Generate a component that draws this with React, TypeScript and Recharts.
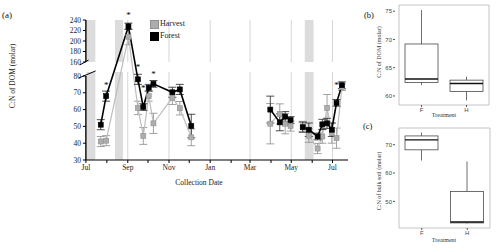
import React from 'react';
import {
  LineChart, Line, XAxis, YAxis, ErrorBar, ReferenceLine, ReferenceArea,
  ReferenceDot, Legend, BarChart, Bar,
} from 'recharts';

// ---------- Panel (a) data ----------
// days since 1 Jul 2014
const sampleDays = [22, 30, 63, 77, 85, 93, 100, 128, 139, 156, 273, 287, 295, 303, 321, 330, 343, 350, 357, 364, 371, 379];
const forestCN = [51, 68, 228, 78, 61.5, 73, 75.3, 70.3, 72, 50.2, 60, 52.4, 55.8, 53.8, 49.5, 48, 44, 51.2, 51.8, 48, 64, 74.5];
const forestSE = [3, 3, 6, 3, 2, 2, 2, 3, 3, 7, 8, 5, 3, 2, 3, 4, 2, 3, 3, 4, 2, 2];
const harvestCN = [41, 41.5, 208, 61, 44.3, 68, 51.8, 67, 60.8, 43.5, 51.6, 57.4, 51.6, 50.2, 50, 44.5, 36.8, 44, 61, 46, 43, 73.3];
const harvestSE = [3, 3, 15, 4, 5, 3, 6, 4, 4, 5, 12, 6, 6, 3, 3, 4, 3, 4, 8, 6, 6, 2];
const campaignStarts = [0, 10, 14];
const sigIndex = [1, 2, 3, 4, 6, 20];
const sigLevel = [74.6, 116.3, 85.4, 72.9, 81.2, 74.6]; // in broken-axis units
const monthTickDays = [0, 31, 62, 92, 123, 153, 184, 215, 243, 274, 304, 335, 365];
const monthTickLabels = ['Jul', '', 'Sep', '', 'Nov', '', 'Jan', '', 'Mar', '', 'May', '', 'Jul'];
const gridDays = [62, 123, 184, 243, 304, 365];
const shadedPeriods = [[1, 14], [43, 55], [324, 337]];
const lowerTicks = [30, 40, 50, 60, 70, 80];
const upperTicks = [160, 180, 200, 220, 240];
const legendOrder = ['Harvest', 'Forest'];

// ---------- Panel (b) / (c) data ----------
const treatments = ['F', 'H'];
const domMin = [61.9, 59.2];
const domQ1 = [62.4, 60.8];
const domMed = [63.0, 62.2];
const domQ3 = [69.2, 62.8];
const domMax = [75.2, 63.4];
const domTicks = [60, 65, 70, 75];
const soilMin = [64.4, 42.2];
const soilQ1 = [68.2, 42.4];
const soilMed = [71.7, 42.7];
const soilQ3 = [73.1, 53.5];
const soilMax = [74.3, 64.1];
const soilTicks = [50, 60, 70];

// ---------- broken axis transform ----------
const LOW_TOP = 80;
const HIGH_BOTTOM = 160;
const GAP = 8.3;
const HIGH_SCALE = 0.3125;
const tr = (v: number) =>
  v <= LOW_TOP ? v : v >= HIGH_BOTTOM ? LOW_TOP + GAP + (v - HIGH_BOTTOM) * HIGH_SCALE : LOW_TOP + ((v - LOW_TOP) * GAP) / (HIGH_BOTTOM - LOW_TOP);
const trErr = (v: number, e: number) => (v >= HIGH_BOTTOM ? e * HIGH_SCALE : e);

const rows: any[] = [];
sampleDays.forEach((d, i) => {
  if (i > 0 && campaignStarts.includes(i)) {
    rows.push({ day: (sampleDays[i - 1] + d) / 2, f: null, fe: null, h: null, he: null });
  }
  rows.push({
    day: d,
    f: tr(forestCN[i]),
    fe: trErr(forestCN[i], forestSE[i]),
    h: tr(harvestCN[i]),
    he: trErr(harvestCN[i], harvestSE[i]),
  });
});

const yTickValues = [...lowerTicks, ...upperTicks].map(tr);
const yTickLabel = new Map<number, string>();
[...lowerTicks, ...upperTicks].forEach((v) => yTickLabel.set(tr(v), String(v)));

const LOW_SEG_TOP = 82.4;
const Y_MIN = 30;
const Y_MAX = tr(240);

const serif = '"Liberation Serif", "Times New Roman", serif';
const sans = '"Liberation Sans", Arial, sans-serif';

const seriesStyle: Record<string, { fill: string; stroke: string }> = {
  Harvest: { fill: '#adadad', stroke: '#8f8f8f' },
  Forest: { fill: '#000000', stroke: '#000000' },
};

const squareDot = (fill: string, stroke: string, size: number) => (p: any) => {
  if (p.cy == null || p.value == null) return <g key={`e${p.index}`} />;
  return (
    <rect key={`d${p.index}`} x={p.cx - size / 2} y={p.cy - size / 2} width={size} height={size}
      fill={fill} stroke={stroke} strokeWidth={0.6} />
  );
};

const renderLegend = (props: any) => {
  const payload = [...(props.payload || [])].sort(
    (a: any, b: any) => legendOrder.indexOf(a.value) - legendOrder.indexOf(b.value));
  return (
    <div style={{ fontFamily: serif, fontSize: 8, color: '#222', lineHeight: '12px' }}>
      {payload.map((p: any) => (
        <div key={p.value} style={{ display: 'flex', alignItems: 'center', height: 12 }}>
          <span style={{ display: 'inline-block', width: 7, height: 7, background: seriesStyle[p.value]?.fill, border: `0.6px solid ${seriesStyle[p.value]?.stroke}`, marginRight: 1 }} />
          <span>{p.value}</span>
        </div>
      ))}
    </div>
  );
};

function MainPanel() {
  return (
    <LineChart width={350} height={200} data={rows} margin={{ top: 20, right: 2, bottom: 0, left: 0 }}>
      {shadedPeriods.map(([a, b], i) => (
        <ReferenceArea key={`sl${i}`} x1={a} x2={b} y1={Y_MIN} y2={LOW_SEG_TOP} fill="#dcdcdc" fillOpacity={1} stroke="none" />
      ))}
      {shadedPeriods.map(([a, b], i) => (
        <ReferenceArea key={`su${i}`} x1={a} x2={b} y1={tr(HIGH_BOTTOM)} y2={Y_MAX} fill="#dcdcdc" fillOpacity={1} stroke="none" />
      ))}
      {gridDays.map((d) => (
        <ReferenceLine key={`gl${d}`} segment={[{ x: d, y: Y_MIN }, { x: d, y: LOW_SEG_TOP }]} stroke="#d6d6d6" strokeWidth={1} />
      ))}
      {gridDays.map((d) => (
        <ReferenceLine key={`gu${d}`} segment={[{ x: d, y: tr(HIGH_BOTTOM) }, { x: d, y: Y_MAX }]} stroke="#d6d6d6" strokeWidth={1} />
      ))}
      <XAxis
        type="number" dataKey="day" domain={[0, 388]} ticks={monthTickDays} allowDataOverflow interval={0}
        tickFormatter={(v: number) => monthTickLabels[monthTickDays.indexOf(v)] ?? ''}
        tickSize={3} tickMargin={2} height={40}
        axisLine={{ stroke: '#000', strokeWidth: 1.2 }} tickLine={{ stroke: '#000' }}
        tick={{ fontFamily: serif, fontSize: 7.5, fill: '#222' }}
      />
      <YAxis
        type="number" domain={[Y_MIN, Y_MAX]} ticks={yTickValues} allowDataOverflow width={51} interval={0}
        tickFormatter={(v: number) => yTickLabel.get(v) ?? ''}
        tickSize={3} tickMargin={2} axisLine={false}
        tickLine={{ stroke: '#000' }}
        tick={{ fontFamily: serif, fontSize: 7.5, fill: '#222' }}
      />
      <ReferenceLine segment={[{ x: 0, y: Y_MIN }, { x: 0, y: LOW_TOP }]} stroke="#000" strokeWidth={1.4} ifOverflow="visible" />
      <ReferenceLine segment={[{ x: 0, y: tr(HIGH_BOTTOM) }, { x: 0, y: Y_MAX }]} stroke="#000" strokeWidth={1.4} ifOverflow="visible" />
      <ReferenceLine segment={[{ x: -10.5, y: 78.8 }, { x: 14.4, y: 83 }]} stroke="#000" strokeWidth={1} ifOverflow="visible" />
      <ReferenceLine segment={[{ x: -9.2, y: 86.5 }, { x: 3.9, y: 89.5 }]} stroke="#000" strokeWidth={1} ifOverflow="visible" />
      <Line
        name="Harvest" dataKey="h" stroke="#bdbdbd" strokeWidth={1.2} isAnimationActive={false}
        dot={squareDot('#adadad', '#8f8f8f', 5)} activeDot={false}
      >
        <ErrorBar dataKey="he" direction="y" width={4} stroke="#8a8a8a" strokeWidth={0.8} isAnimationActive={false} />
      </Line>
      <Line
        name="Forest" dataKey="f" stroke="#000" strokeWidth={1.6} isAnimationActive={false}
        dot={squareDot('#000', '#000', 5)} activeDot={false}
      >
        <ErrorBar dataKey="fe" direction="y" width={4} stroke="#222" strokeWidth={0.8} isAnimationActive={false} />
      </Line>
      {sigIndex.map((idx, k) => (
        <ReferenceDot key={`s${k}`} x={sampleDays[idx]} y={sigLevel[k]} r={0} ifOverflow="visible"
          label={{ value: '*', position: 'center', fontFamily: serif, fontSize: 9, fill: '#000' }} />
      ))}
      <Legend content={renderLegend} layout="vertical" verticalAlign="top" align="left"
        wrapperStyle={{ left: 150, top: 18, width: 'auto' }} />
    </LineChart>
  );
}

const BoxShape = (props: any) => {
  const { x, y, width, height, payload } = props;
  if (height == null || !payload) return <g />;
  const span = payload.max - payload.min;
  const py = (v: number) => y + (height * (payload.max - v)) / span;
  const cx = x + width / 2;
  const c = '#4a4a4a';
  return (
    <g>
      <line x1={cx} x2={cx} y1={py(payload.max)} y2={py(payload.q3)} stroke={c} strokeWidth={0.8} />
      <line x1={cx} x2={cx} y1={py(payload.q1)} y2={py(payload.min)} stroke={c} strokeWidth={0.8} />
      <rect x={x} y={py(payload.q3)} width={width} height={Math.max(0.5, py(payload.q1) - py(payload.q3))} fill="#fff" stroke={c} strokeWidth={0.8} />
      <line x1={x} x2={x + width} y1={py(payload.med)} y2={py(payload.med)} stroke="#111" strokeWidth={1.4} />
    </g>
  );
};

function BoxPanel({ data, domain, ticks, width, height, margin, xHeight }: any) {
  return (
    <BarChart width={width} height={height} data={data} margin={margin}>
      <ReferenceArea y1={domain[0]} y2={domain[1]} fill="none" stroke="#bdbdbd" strokeWidth={0.9} ifOverflow="visible" />
      <XAxis dataKey="t" type="category" padding={{ left: 4, right: 4 }} axisLine={false}
        tickSize={2} tickMargin={1} height={xHeight} tickLine={{ stroke: '#555' }}
        tick={{ fontFamily: sans, fontSize: 6, fill: '#444' }} />
      <YAxis type="number" domain={domain} ticks={ticks} allowDataOverflow width={35} axisLine={false} interval={0}
        tickSize={2} tickMargin={1} tickLine={{ stroke: '#555' }}
        tick={{ fontFamily: sans, fontSize: 6, fill: '#444' }} />
      <Bar dataKey={(d: any) => [d.min, d.max]} barSize={33} shape={BoxShape} isAnimationActive={false} />
    </BarChart>
  );
}

const domData = treatments.map((t, i) => ({ t, min: domMin[i], q1: domQ1[i], med: domMed[i], q3: domQ3[i], max: domMax[i] }));
const soilData = treatments.map((t, i) => ({ t, min: soilMin[i], q1: soilQ1[i], med: soilMed[i], q3: soilQ3[i], max: soilMax[i] }));

export default function App() {
  return (
    <div style={{ position: 'absolute', left: 0, top: 0, width: 500, height: 252, background: '#fff', overflow: 'hidden' }}>
      <div style={{ position: 'absolute', left: 0, top: 0 }}>
        <MainPanel />
      </div>
      <div style={{ position: 'absolute', left: 360, top: 0 }}>
        <BoxPanel data={domData} domain={[58.4, 76.1]} ticks={domTicks} width={140} height={125}
          margin={{ top: 5, right: 7, bottom: 0, left: 0 }} xHeight={20} />
      </div>
      <div style={{ position: 'absolute', left: 360, top: 120 }}>
        <BoxPanel data={soilData} domain={[40.6, 75.9]} ticks={soilTicks} width={140} height={132}
          margin={{ top: 8, right: 6, bottom: 0, left: 0 }} xHeight={24} />
      </div>
      <svg width={500} height={252} style={{ position: 'absolute', left: 0, top: 0, pointerEvents: 'none' }}>
        <text x={2} y={18} fontFamily={serif} fontSize={9} fill="#111">(a)</text>
        <text x={0} y={0} transform="translate(15,76) rotate(-90)" textAnchor="middle" fontFamily={serif} fontSize={7.5} fill="#222">C:N of DOM (molar)</text>
        <text x={199} y={185} textAnchor="middle" fontFamily={serif} fontSize={7.5} fill="#222">Collection Date</text>
        <text x={364} y={18} fontFamily={serif} fontSize={8.5} fill="#111">(b)</text>
        <text x={0} y={0} transform="translate(381,52) rotate(-90)" textAnchor="middle" fontFamily={serif} fontSize={6} fill="#333">C:N of DOM (molar)</text>
        <text x={444} y={117} textAnchor="middle" fontFamily={serif} fontSize={6} fill="#333">Treatment</text>
        <text x={363} y={129} fontFamily={serif} fontSize={8.5} fill="#111">(c)</text>
        <text x={0} y={0} transform="translate(381,181) rotate(-90)" textAnchor="middle" fontFamily={serif} fontSize={6} fill="#333">C:N of bulk soil (molar)</text>
        <text x={444} y={242} textAnchor="middle" fontFamily={serif} fontSize={6} fill="#333">Treatment</text>
      </svg>
    </div>
  );
}
